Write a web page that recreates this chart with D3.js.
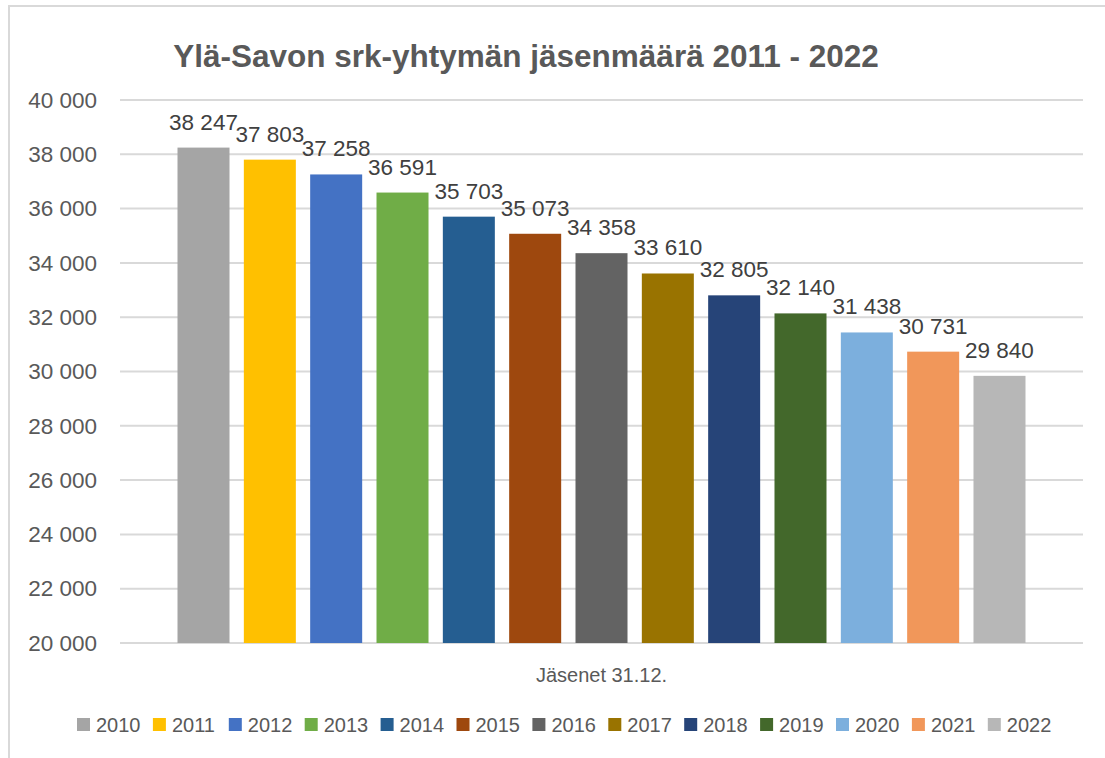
<!DOCTYPE html>
<html>
<head>
<meta charset="utf-8">
<script src="https://cdn.jsdelivr.net/npm/d3@7"></script>
<style>
  body { margin: 0; background: #fff; }
  svg text { font-family: "Liberation Sans", Arial, sans-serif; }
</style>
</head>
<body>
<svg id="chart" width="1105" height="758"></svg>
<script>
var svg = d3.select("#chart"),
width = svg.attr("width")*1,
height = svg.attr("height")*1

// Data
var years = ["2010","2011","2012","2013","2014","2015","2016","2017","2018","2019","2020","2021","2022"]
var members = [38247, 37803, 37258, 36591, 35703, 35073, 34358, 33610, 32805, 32140, 31438, 30731, 29840]
var barColors = ["#A5A5A5","#FFC000","#4472C4","#70AD47","#255E91","#9E480E","#636363","#997300","#264478","#43682B","#7CAFDD","#F1975A","#B7B7B7"]
var yTicks = [20000, 22000, 24000, 26000, 28000, 30000, 32000, 34000, 36000, 38000, 40000]
var title = "Ylä-Savon srk-yhtymän jäsenmäärä 2011 - 2022"
var categoryLabel = "Jäsenet 31.12."

var plotLeft = 120, plotRight = 1083, plotTop = 100, plotBottom = 643
var fmt = d => d3.format(",")(d).replace(/,/g, " ")

// chart frame
svg.append("rect")
    .attr("x", 9).attr("y", 6)
    .attr("width", width).attr("height", height)
    .attr("fill", "#fff")
    .attr("stroke", "#d9d9d9")
    .attr("stroke-width", 2)

var x = d3.scaleBand().domain(years)
    .range([plotLeft, plotRight])
    .paddingInner(0.216).paddingOuter(0.867)
var y = d3.scaleLinear().domain([20000, 40000]).range([plotBottom, plotTop])

// gridlines
svg.append("g").selectAll("line")
    .data(yTicks)
    .enter().append("line")
    .attr("x1", plotLeft).attr("x2", plotRight)
    .attr("y1", d => y(d)).attr("y2", d => y(d))
    .attr("stroke", "#d9d9d9")
    .attr("stroke-width", 2)

// y axis labels
var yAxis = d3.axisLeft(y).tickValues(yTicks).tickFormat(fmt).tickSize(0).tickPadding(23)
var yg = svg.append("g").attr("transform", "translate(" + plotLeft + ",0)").call(yAxis)
yg.select(".domain").remove()
yg.selectAll("text")
    .attr("fill", "#595959")
    .style("font-size", "22.5px")
    .style("font-family", "'Liberation Sans', Arial, sans-serif")

// bars
var data = years.map((yr, i) => ({year: yr, value: members[i], color: barColors[i]}))
svg.append("g").selectAll("rect")
    .data(data)
    .enter().append("rect")
    .attr("x", d => x(d.year))
    .attr("y", d => y(d.value))
    .attr("width", x.bandwidth())
    .attr("height", d => y(20000) - y(d.value))
    .attr("fill", d => d.color)

// value labels
svg.append("g").selectAll("text")
    .data(data)
    .enter().append("text")
    .attr("x", d => x(d.year) + x.bandwidth()/2)
    .attr("y", d => y(d.value) - 18)
    .attr("text-anchor", "middle")
    .attr("fill", "#404040")
    .style("font-size", "22.5px")
    .text(d => fmt(d.value))

// title
svg.append("text")
    .attr("x", 526).attr("y", 67)
    .attr("text-anchor", "middle")
    .attr("fill", "#595959")
    .style("font-size", "31.5px")
    .style("font-weight", "bold")
    .text(title)

// category label
svg.append("text")
    .attr("x", (plotLeft + plotRight)/2).attr("y", 682)
    .attr("text-anchor", "middle")
    .attr("fill", "#595959")
    .style("font-size", "20px")
    .text(categoryLabel)

// legend
var legendStep = 75.9, legendX0 = 77
var legend = svg.append("g").selectAll("g")
    .data(data)
    .enter().append("g")
    .attr("transform", (d, i) => "translate(" + (legendX0 + i*legendStep) + ",718)")
legend.append("rect")
    .attr("width", 13).attr("height", 13)
    .attr("fill", d => d.color)
legend.append("text")
    .attr("x", 19).attr("y", 14)
    .attr("fill", "#595959")
    .style("font-size", "20px")
    .text(d => d.year)
</script>
</body>
</html>
